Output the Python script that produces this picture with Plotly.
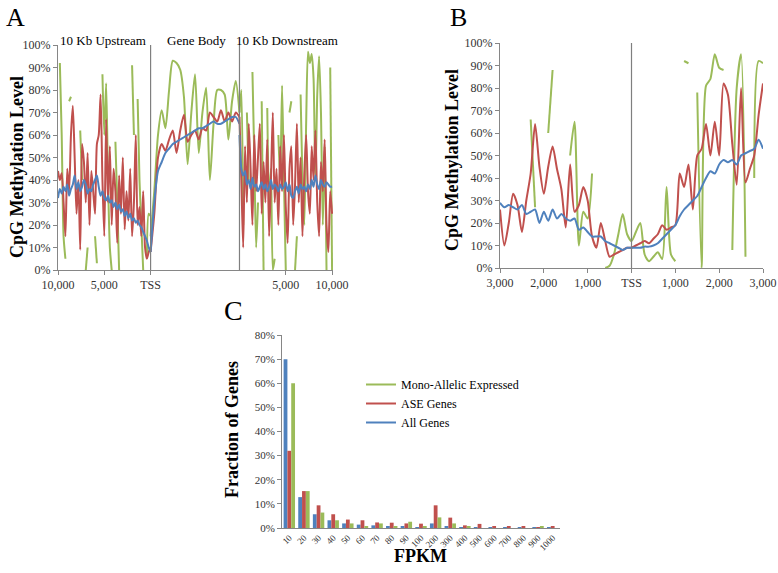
import plotly.graph_objects as go

W, H = 778, 573
GREEN, RED, BLUE = "#9BBB59", "#C0504D", "#4F81BD"
FONT = "Times New Roman, Liberation Serif, serif"

# ---------------- Panel A data (methylation %, upstream / gene body / downstream) -------------
up_pos = list(range(-10000, 1, 200))            # distance to TSS (bp)
up_red = [44, 40, 43, 30, 15, 45, 35, 60, 73, 50, 25, 40, 9, 56, 48, 30, 52, 20, 44, 35, 25,
          56, 60, 78, 40, 15, 67, 30, 55, 20, 45, 35, 12, 42, 25, 50, 18, 35, 22, 45, 15, 30,
          60, 20, 28, 15, 35, 10, 5, 8, 10]
up_blue = [32, 36, 34, 37, 35, 38, 33, 36, 38, 42, 36, 39, 35, 37, 40, 38, 34, 36, 35, 38, 40,
           42, 37, 33, 35, 32, 31, 33, 30, 31, 28, 30, 27, 29, 26, 27, 24, 26, 23, 25, 22, 23,
           21, 22, 20, 19, 17, 15, 13, 10, 8]
up_green = [None, 92, 60, 15, 5, None, 75, 77, None, None, None, None, 62, 40, None, 0, 10, None,
            None, None, 15, 3, None, None, 87, 60, 83, 40, 10, 0, None, 57, 30, 0, None, None,
            None, None, None, None, 91, 60, None, 76, 40, 20, 0, None, 5, 25, 24]

gb_pos = list(range(0, 9601, 400))              # scaled gene body position
gb_red = [8, 25, 50, 56, 53, 58, 62, 52, 62, 69, 57, 60, 62, 58, 63, 62, 70, 68, 66, 71, 66,
          70, 66, 70, 68]
gb_blue = [8, 30, 44, 48, 52, 54, 56, 57, 58, 59, 60, 61, 62, 63, 63, 64, 65, 66, 65, 65, 66,
           67, 68, 68, 65]
gb_green = [15, 35, 60, 71, 63, 80, 93, 92, 89, 77, 47, 70, 87, 52, 70, 81, 40, 65, 80, 80, 78,
            58, 75, 84, 70]

dn_pos = list(range(0, 10001, 200))             # distance from gene end (bp)
dn_red = [68, 40, 10, 55, 30, 65, 45, 20, 60, 35, 50, 65, 25, 48, 30, 58, 15, 40, 70, 30, 45,
          20, 55, 35, 60, 28, 12, 45, 55, 20, 38, 65, 30, 50, 15, 42, 60, 35, 25, 55, 40, 62,
          30, 15, 48, 35, 58, 20, 8, 35, 25]
dn_blue = [60, 45, 42, 44, 38, 40, 36, 41, 37, 38, 35, 37, 39, 36, 38, 35, 37, 40, 36, 38, 37,
           35, 38, 36, 37, 39, 35, 38, 33, 32, 35, 37, 34, 38, 36, 37, 35, 38, 36, 40, 37, 42,
           38, 36, 40, 38, 37, 39, 38, 37, 37]
dn_green = [70, 80, 20, None, 70, 40, None, 88, 50, 10, 30, None, 75, 0, None, 72, 30, 45, 0, 5,
            None, 60, 40, 82, 40, 0, None, 70, 75, None, 0, 15, None, 78, 40, 20, 65, 97, 92, 96,
            85, 40, 78, 95, 70, 20, 55, 0, None, 90, 0]

GENE_END = 9600
a_tickvals = [-10000, -5000, 0, GENE_END + 5000, GENE_END + 10000]
a_ticktext = ["10,000", "5,000", "TSS", "5,000", "10,000"]

# ---------------- Panel B data (±3 kb around TSS) ----------------
b_pos = list(range(-3000, 3001, 100))
b_blue = [29, 27, 28, 27, 26, 28, 24, 25, 26, 20, 25, 21, 26, 22, 24, 22, 21, 22, 17, 18, 16,
          14, 14, 14, 12, 11, 10, 9, 8, 9, 9,
          9, 9, 9.5, 9.5, 10, 11, 13, 15, 17, 19, 23, 26, 28, 30, 32, 36, 40, 43, 42, 46, 48,
          47, 48, 46, 50, 51, 52, 53, 57, 53]
b_red = [26, 10, 20, 33, 28, 16, 30, 42, 64, 45, 33, 45, 54, 44, 35, 18, 46, 25, 28, 36, 30,
         14, 9, 20, 12, 5, 6, 7, 8, 9, 9,
         10, 11, 12, 11, 13, 15, 19, 17, 18, 19, 42, 36, 46, 26, 50, 53, 64, 50, 65, 50, 82,
         77, 55, 37, 80, 38, 44, 50, 68, 82]
b_green = [None, None, None, None, None, None, None, 66, 27, None, None, 60, 88, None, None,
           None, 50, 65, 10, 25, 22, 42, None, None, 0, 1, 6, 15, 24, 15, 12,
           16, 20, 6, 3, 5, 7, 4, 36, 6, 3, None, 92, 91, None, 78, 0, 81, 84, 95, 89, 88,
           None, 8, 80, 95, 5, None, 40, 92, 91]

# ---------------- Panel C data ----------------
fpkm = ["10", "20", "30", "40", "50", "60", "70", "80", "90", "100", "200", "300", "400",
        "500", "600", "700", "800", "900", "1000"]
all_genes = [70, 12.8, 5.7, 3.2, 1.9, 1.4, 1.1, 0.7, 0.6, 0.4, 1.9, 0.7, 0.4, 0.1, 0.1, 0.1,
             0.1, 0.2, 0.1]
ase_genes = [32, 15.3, 9.4, 5.7, 3.5, 3.2, 2.3, 2.2, 1.9, 1.8, 9.4, 4.3, 1.1, 1.7, 0.7, 0.8,
             0.5, 0.3, 0.8]
mono_genes = [60, 15.3, 6.4, 3.2, 1.9, 0.7, 1.9, 0.7, 2.6, 0.7, 4.4, 1.9, 0.7, 0.0, 0.0, 0.0,
              0.0, 0.6, 0.0]

fig = go.Figure()
LW = 2
sp = dict(shape="spline", smoothing=0.7)

for pos_src, g, r, b, kind in [(up_pos, up_green, up_red, up_blue, "up"),
                               (gb_pos, gb_green, gb_red, gb_blue, "gb"),
                               (dn_pos, dn_green, dn_red, dn_blue, "dn")]:
    xs = [GENE_END + p for p in pos_src] if kind == "dn" else pos_src
    for ys, col in [(g, GREEN), (r, RED), (b, BLUE)]:
        fig.add_trace(go.Scatter(x=xs, y=ys, mode="lines", line=dict(color=col, width=LW, **sp),
                                 connectgaps=False, showlegend=False, xaxis="x", yaxis="y"))

for ys, col in [(b_green, GREEN), (b_red, RED), (b_blue, BLUE)]:
    fig.add_trace(go.Scatter(x=b_pos, y=ys, mode="lines", line=dict(color=col, width=LW, **sp),
                             connectgaps=False, showlegend=False, xaxis="x2", yaxis="y2"))

for ys, col, name in [(all_genes, BLUE, "All Genes"), (ase_genes, RED, "ASE Genes"),
                      (mono_genes, GREEN, "Mono-Allelic Expressed")]:
    fig.add_trace(go.Bar(x=fpkm, y=ys, marker=dict(color=col, line=dict(width=0)), name=name,
                         showlegend=False, xaxis="x3", yaxis="y3"))
for col, name in [(BLUE, "All Genes"), (RED, "ASE Genes"), (GREEN, "Mono-Allelic Expressed")]:
    fig.add_trace(go.Scatter(x=[None], y=[None], mode="lines", line=dict(color=col, width=2),
                             name=name, xaxis="x3", yaxis="y3"))

def px_x(p):
    return p / W

def px_y(p):
    return 1 - p / H

AX = "#868686"
TICKF = dict(family=FONT, size=12, color="#333333")
pct100 = list(range(0, 101, 10))
yax_common = dict(range=[0, 100], tickmode="array", tickvals=pct100,
                  ticktext=[f"{v}%" for v in pct100], automargin=False,
                  showgrid=False, zeroline=False, showline=True, linecolor=AX, linewidth=1,
                  ticks="outside", ticklen=4, tickcolor=AX, tickfont=TICKF, fixedrange=True)
xax_common = dict(showgrid=False, zeroline=False, showline=True, linecolor=AX, linewidth=1,
                  ticks="outside", ticklen=4, tickcolor=AX, tickfont=TICKF, automargin=False,
                  ticklabeloverflow="allow")
pct80 = list(range(0, 81, 10))

fig.update_layout(
    template="none",
    width=W, height=H, margin=dict(l=0, r=0, t=0, b=0),
    paper_bgcolor="white", plot_bgcolor="white",
    font=dict(family=FONT, color="black"),
    barmode="group", bargap=0.22, bargroupgap=0,
    xaxis=dict(domain=[px_x(58), px_x(333)], range=[-10000, GENE_END + 10100],
               tickmode="array", tickvals=a_tickvals, ticktext=a_ticktext, anchor="y",
               **xax_common),
    yaxis=dict(domain=[px_y(270), px_y(45)], anchor="x", **yax_common),
    xaxis2=dict(domain=[px_x(500), px_x(763)], range=[-3000, 3000], tickmode="array",
                tickvals=[-3000, -2000, -1000, 0, 1000, 2000, 3000],
                ticktext=["3,000", "2,000", "1,000", "TSS", "1,000", "2,000", "3,000"],
                anchor="y2", **xax_common),
    yaxis2=dict(domain=[px_y(268), px_y(43)], anchor="x2", **yax_common),
    xaxis3=dict(domain=[px_x(282), px_x(560)], type="category", anchor="y3", automargin=False,
                tickangle=-45, showgrid=False, zeroline=False, showline=True, linecolor=AX,
                ticks="", tickfont=dict(family=FONT, size=9, color="#333333")),
    yaxis3=dict(domain=[px_y(528), px_y(335)], anchor="x3", range=[0, 80], tickmode="array",
                tickvals=pct80, ticktext=[f"{v}%" for v in pct80], showgrid=False,
                automargin=False,
                zeroline=False, showline=True, linecolor=AX, ticks="outside", ticklen=4,
                tickcolor=AX, tickfont=dict(family=FONT, size=11, color="#333333")),
    legend=dict(x=px_x(361), y=px_y(370), xanchor="left", yanchor="top",
                traceorder="reversed", bgcolor="rgba(0,0,0,0)",
                font=dict(family=FONT, size=12, color="black"), tracegroupgap=0,
                itemwidth=30),
)

shapes = []
for xv in [0, GENE_END]:
    shapes.append(dict(type="line", xref="x", yref="y", x0=xv, x1=xv, y0=0, y1=100,
                       line=dict(color="#7f7f7f", width=1.2)))
shapes.append(dict(type="line", xref="x2", yref="y2", x0=0, x1=0, y0=0, y1=100,
                   line=dict(color="#7f7f7f", width=1.2)))
fig.update_layout(shapes=shapes)

ann = []
def txt(x, y, s, size, bold=False, angle=0):
    ann.append(dict(x=px_x(x), y=px_y(y), xref="paper", yref="paper",
                    text=(f"<b>{s}</b>" if bold else s),
                    showarrow=False, textangle=angle, xanchor="center", yanchor="middle",
                    font=dict(family=FONT, size=size, color="black")))

txt(15, 17, "A", 26)
txt(458, 17, "B", 26)
txt(234, 310, "C", 28)
txt(103, 41, "10 Kb Upstream", 13)
txt(196, 41, "Gene Body", 13)
txt(287, 41, "10 Kb Downstream", 13)
txt(17, 167, "CpG Methylation Level", 18, bold=True, angle=-90)
txt(452, 160, "CpG Methylation Level", 18, bold=True, angle=-90)
txt(232, 430, "Fraction of Genes", 18, bold=True, angle=-90)
txt(420, 556, "FPKM", 18, bold=True)
fig.update_layout(annotations=ann)

# remove the default page margin so the 778x573 figure fills the window exactly
fig.write_html("out.html", config={"displayModeBar": False},
               post_script="document.body.style.margin='0';document.body.style.overflow='hidden';")
